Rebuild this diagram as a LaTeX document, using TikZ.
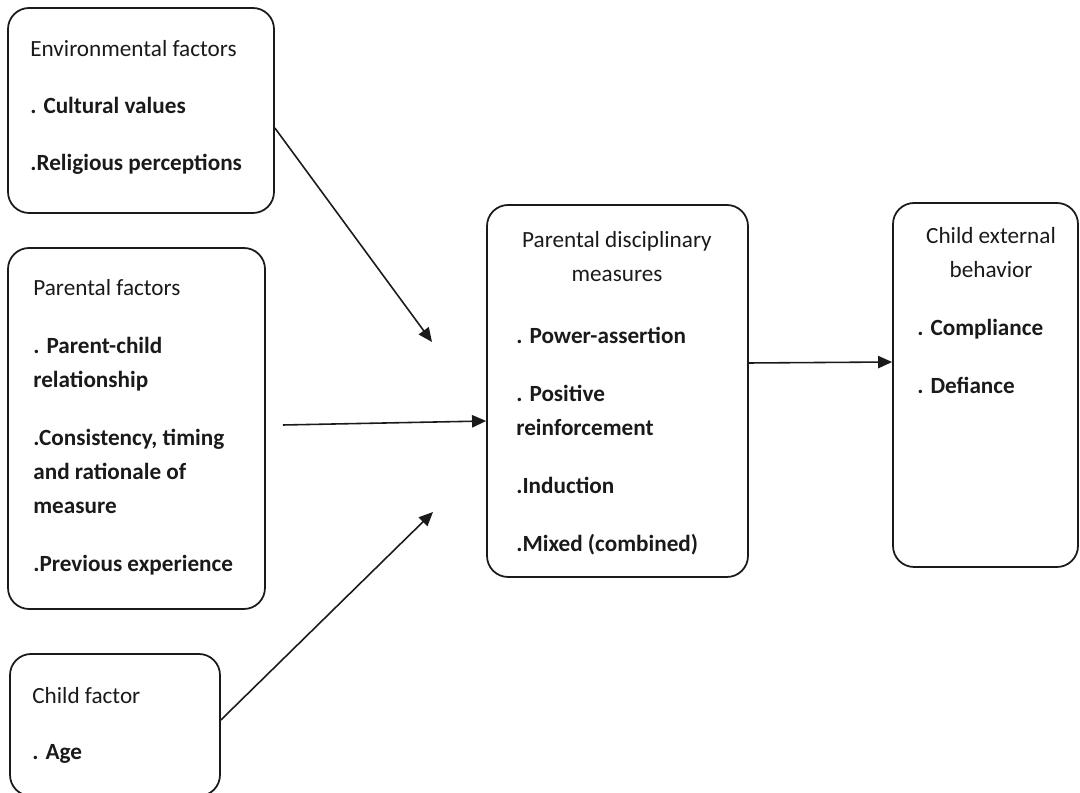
\documentclass[tikz,border=0pt]{standalone}
\usepackage{fontspec}
\setmainfont{Carlito}
\usetikzlibrary{arrows.meta,positioning,fit}
\definecolor{ink}{HTML}{1A1A1A}

\begin{document}
\begin{tikzpicture}[
  x=0.02cm, y=-0.02cm,
  >={Triangle[length=8pt,width=7pt]},
  box/.style={draw=ink, line width=1pt, rounded corners=12pt, inner sep=0pt},
  txt/.style={inner sep=0pt, align=left, font=\fontsize{13.2}{19.4}\selectfont, text=ink},
  head/.style={txt, align=center},
  arr/.style={->, line width=0.9pt, draw=ink},
]
\useasboundingbox (0,0) rectangle (1080,793);

% boxes
\node[box, fit={(8,8) (274,213)}] (env) {};
\node[box, fit={(8,248) (265,609)}] (par) {};
\node[box, fit={(10,654) (220,796)}] (chi) {};
\node[box, fit={(487,205) (748,577)}] (disc) {};
\node[box, fit={(893,203) (1078,567)}] (beh) {};

% texts (anchored at the baseline of the last line)
\node[txt, anchor=base west] (envtxt) at (30,171) {Environmental factors\\[13.2pt]
  \textbf{. Cultural values}\\[13.2pt]
  \textbf{.Religious perceptions}};
\node[txt, anchor=base west] (partxt) at (33,572) {Parental factors\\[13.7pt]
  \textbf{. Parent-child}\\ \textbf{relationship}\\[13.7pt]
  \textbf{.Consistency, timing}\\ \textbf{and rationale of}\\ \textbf{measure}\\[13.7pt]
  \textbf{.Previous experience}};
\node[txt, anchor=base west] (chitxt) at (32,760) {Child factor\\[12.5pt]
  \textbf{. Age}};
\node[head, anchor=base] (dischead) at (617,282) {Parental disciplinary\\ measures};
\node[txt, anchor=base west] (disctxt) at (516,552) {\textbf{. Power-assertion}\\[13.7pt]
  \textbf{. Positive}\\ \textbf{reinforcement}\\[13.7pt]
  \textbf{.Induction}\\[13.7pt]
  \textbf{.Mixed (combined)}};
\node[head, anchor=base] (behhead) at (991,278) {Child external\\ behavior};
\node[txt, anchor=base west] (behtxt) at (917,394) {\textbf{. Compliance}\\[13.7pt]
  \textbf{. Defiance}};

% free arrow ends
\coordinate (envend) at (432,342);
\coordinate (parstart) at (283,425);
\coordinate (chiend) at (433,512);

\draw[arr] (env.east |- 0,128) -- (envend);
\draw[arr] (parstart) -- (disc.west |- 0,421);
\draw[arr] (chi.east |- 0,720) -- (chiend);
\draw[arr] (disc.east |- 0,363) -- (beh.west |- 0,362);

\end{tikzpicture}
\end{document}
